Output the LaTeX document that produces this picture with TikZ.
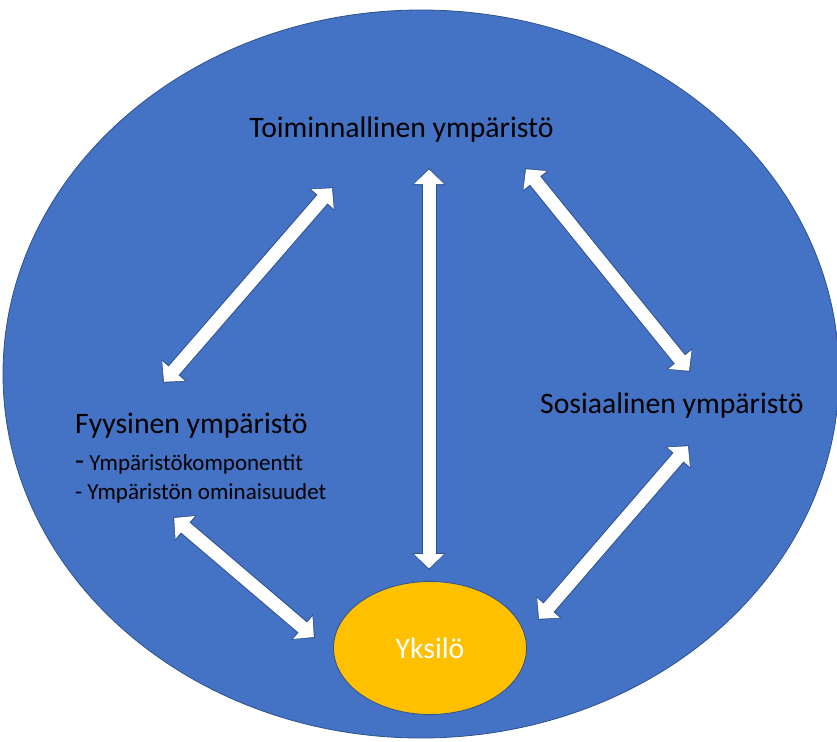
\documentclass[tikz,border=0pt]{standalone}
\usepackage{fontspec}
\setmainfont{Carlito}
\usetikzlibrary{arrows.meta,positioning,shapes.geometric}
\definecolor{envblue}{HTML}{4472C4}
\definecolor{envline}{HTML}{2F528F}
\definecolor{selfyellow}{HTML}{FFC000}
\tikzset{
  envtext/.style={inner sep=0pt,font=\fontsize{29.7}{34}\selectfont},
  subtext/.style={inner sep=0pt,font=\fontsize{23}{27}\selectfont},
  biarrow/.style={draw=envline,line width=15pt,
    {Triangle[length=17pt,width=32pt]}-{Triangle[length=17pt,width=32pt]},
    postaction={draw=white,line width=13pt,
      {Triangle[length=14.5pt,width=29pt]}-{Triangle[length=14.5pt,width=29pt]},
      shorten <=1.5pt,shorten >=1.5pt}}
}
\begin{document}
\begin{tikzpicture}[x=1pt,y=-1pt]
    \useasboundingbox (0,0) rectangle (837,741);
    % environment
    \draw[envline,fill=envblue,line width=0.8pt] (421,374) ellipse [x radius=418pt,y radius=364pt];
    \node[envtext,anchor=base] (toim) at (401.5,137.7) {Toiminnallinen ympäristö};
    \node[envtext,anchor=base west] (fyys) at (75,433) {Fyysinen ympäristö};
    \node[subtext,anchor=base west] (komp) at (75,470) {{\fontsize{29.7}{34}\selectfont -} Ympäristökomponentit};
    \node[subtext,anchor=base west] (omin) at (75,499) {- Ympäristön ominaisuudet};
    \node[envtext,anchor=base west] (sos) at (540,413) {Sosiaalinen ympäristö};
    % individual
    \node[ellipse,draw=envline,fill=selfyellow,line width=0.8pt,minimum width=193pt,minimum height=133pt,
          text=white,font=\fontsize{29.7}{34}\selectfont] (yks) at (430,648) {Yksilö};
    % arrow ends
    \coordinate (a1) at (163,383);
    \coordinate (a2) at (333,187);
    \coordinate (b1) at (525,168);
    \coordinate (b2) at (690,372);
    \coordinate (c1) at (429,168);
    \coordinate (c2) at (429,570);
    \coordinate (d1) at (173,517);
    \coordinate (d2) at (315,638);
    \coordinate (e1) at (689,445);
    \coordinate (e2) at (538,620);
    \draw[biarrow] (a1) -- (a2);
    \draw[biarrow] (b1) -- (b2);
    \draw[biarrow] (c1) -- (c2);
    \draw[biarrow] (d1) -- (d2);
    \draw[biarrow] (e1) -- (e2);
\end{tikzpicture}
\end{document}
